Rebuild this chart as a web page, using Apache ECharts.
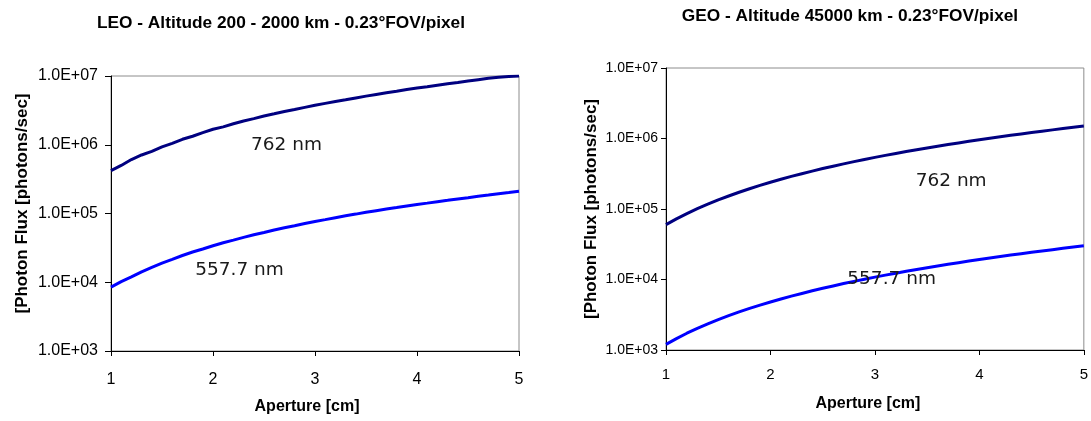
<!DOCTYPE html>
<html>
<head>
<meta charset="utf-8">
<script src="https://cdn.jsdelivr.net/npm/echarts@6/dist/echarts.min.js"></script>
<style>html,body{margin:0;padding:0;background:#fff;}#c{width:1091px;height:421px;}</style>
</head>
<body>
<div id="c"></div>
<script>
const aperture = [1.0,1.1,1.2,1.3,1.4,1.5,1.6,1.7,1.8,1.9,2.0,2.1,2.2,2.3,2.4,2.5,2.6,2.7,2.8,2.9,3.0,3.1,3.2,3.3,3.4,3.5,3.6,3.7,3.8,3.9,4.0,4.1,4.2,4.3,4.4,4.5,4.6,4.7,4.8,4.9,5.0];
const leo762 = [420000,500000,610000,710000,800000,930000,1050000,1200000,1330000,1500000,1680000,1820000,2020000,2220000,2400000,2620000,2820000,3050000,3250000,3500000,3750000,4000000,4250000,4500000,4800000,5100000,5400000,5700000,6000000,6350000,6700000,7000000,7350000,7700000,8050000,8450000,8850000,9250000,9600000,9850000,10000000];
const leo557 = [8500,10200,12000,14200,16500,19000,21500,24500,27500,30500,34000,37500,41000,45000,49000,53000,57500,62000,66500,71500,76500,81500,87000,92500,98000,104000,110000,116000,122000,128500,135000,141500,148500,155500,163000,170000,178000,185500,193500,201500,210000];
const geo762 = [60000,72500,86000,101000,117000,135000,153000,173000,194000,216000,240000,264000,290000,317000,345000,375000,405000,437000,470000,505000,540000,576000,614000,653000,694000,735000,777000,821000,866000,912000,960000,1008000,1058000,1109000,1161000,1215000,1270000,1325000,1382000,1440000,1500000];
const geo557 = [1200,1450,1730,2030,2350,2700,3070,3470,3890,4330,4800,5290,5810,6340,6910,7500,8110,8750,9410,10090,10800,11530,12290,13070,13870,14700,15550,16430,17330,18250,19200,20170,21170,22190,23230,24300,25390,26500,27650,28810,30000];
const xTicks = [1,2,3,4,5];
const yTickLabels = {3:'1.0E+03',4:'1.0E+04',5:'1.0E+05',6:'1.0E+06',7:'1.0E+07'};
const titles = ['LEO - Altitude 200 - 2000 km - 0.23\u00b0FOV/pixel','GEO - Altitude 45000 km - 0.23\u00b0FOV/pixel'];
const xName = 'Aperture [cm]';
const yName = '[Photon Flux [photons/sec]';
const lineNames = ['762 nm','557.7 nm'];
const labelPos = {leo762:[2.72,1.0e6], leo557:[2.26,1.5e4], geo762:[3.73,2.45e5], geo557:[3.16,1.0e4]};

const AX = 'Liberation Sans, Arial, sans-serif';
const pair = (xs, ys) => xs.map((x,i)=>[x, ys[i]]);
function yFmt(v){ const e = Math.round(Math.log10(v)); return yTickLabels[e] || ''; }

function xAxis(gi, fs, gap, margin, pad){
  return {type:'value', gridIndex:gi, min:1, max:5, interval:1,
    name:xName, nameLocation:'middle', nameGap:gap,
    nameTextStyle:{fontFamily:AX, fontWeight:'bold', fontSize:16, color:'#000', padding:pad},
    axisLine:{show:true, lineStyle:{color:'#000', width:1}},
    axisTick:{show:true, inside:false, length:5, lineStyle:{color:'#000'}},
    axisLabel:{fontFamily:AX, fontSize:fs, color:'#000', margin:margin},
    splitLine:{show:false}};
}
function yAxis(gi, fs, gap, margin, tick, pad){
  return {type:'log', logBase:10, gridIndex:gi, min:1000, max:10000000,
    name:yName, nameLocation:'middle', nameGap:gap,
    nameTextStyle:{fontFamily:AX, fontWeight:'bold', fontSize:17, color:'#000', padding:pad},
    axisLine:{show:true, onZero:false, lineStyle:{color:'#000', width:1}},
    axisTick:{show:true, inside:false, length:tick, lineStyle:{color:'#000'}},
    minorTick:{show:false},
    axisLabel:{fontFamily:AX, fontSize:fs, color:'#000', margin:margin, formatter:yFmt},
    splitLine:{show:false}};
}
function lineSeries(name, xi, data, color, pos){
  return {type:'line', name:name, xAxisIndex:xi, yAxisIndex:xi, data:data,
    showSymbol:false, symbol:'none', smooth:false, animation:false,
    lineStyle:{color:color, width:3}, itemStyle:{color:color},
    markPoint:{symbol:'circle', symbolSize:0, animation:false,
      label:{show:true, position:'inside', formatter:name, fontFamily:'DejaVu Sans, Verdana, sans-serif', fontSize:18.5, color:'#1a1a1a'},
      data:[{coord:pos}]}};
}

const chart = echarts.init(document.getElementById('c'), null, {renderer:'canvas'});
chart.setOption({
  backgroundColor:'#fff',
  animation:false,
  title:[
    {text:titles[0], left:276, top:10, textAlign:'center', textStyle:{fontFamily:AX, fontWeight:'bold', fontSize:17.3, color:'#000'}},
    {text:titles[1], left:845, top:3, textAlign:'center', textStyle:{fontFamily:AX, fontWeight:'bold', fontSize:17.3, color:'#000'}}
  ],
  grid:[
    {left:111, top:76, width:408, height:275, show:true, borderColor:'#8c8c8c', borderWidth:1, backgroundColor:'transparent'},
    {left:666, top:68, width:422, height:282, show:true, borderColor:'#8c8c8c', borderWidth:1, backgroundColor:'transparent'}
  ],
  xAxis:[xAxis(0,16,48,21,[0,16,0,0]), xAxis(1,15,46,17,[0,14,0,0])],
  yAxis:[yAxis(0,16,80,13,6,[0,0,0,20]), yAxis(1,14,66,8,5,[0,0,0,0])],
  series:[
    lineSeries(lineNames[0],0,pair(aperture,leo762),'#000080',labelPos.leo762),
    lineSeries(lineNames[1],0,pair(aperture,leo557),'#0000ff',labelPos.leo557),
    lineSeries(lineNames[0],1,pair(aperture,geo762),'#000080',labelPos.geo762),
    lineSeries(lineNames[1],1,pair(aperture,geo557),'#0000ff',labelPos.geo557)
  ]
});
</script>
</body>
</html>
